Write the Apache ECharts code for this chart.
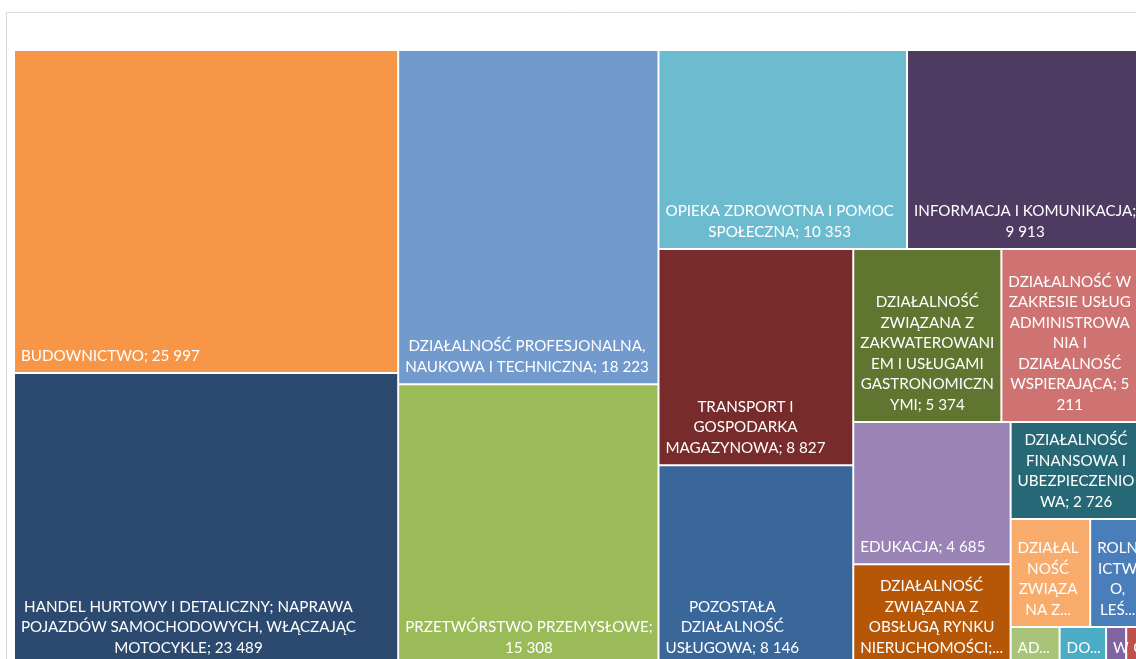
<!DOCTYPE html>
<html>
<head>
<meta charset="utf-8">
<script src="https://cdn.jsdelivr.net/npm/echarts@6/dist/echarts.min.js"></script>
<style>
  html, body { margin: 0; padding: 0; background: #ffffff; }
  #chart { width: 1136px; height: 659px; }
</style>
</head>
<body>
<div id="chart"></div>
<script>
// ---- data ----
const categories = [
  'BUDOWNICTWO',
  'HANDEL HURTOWY I DETALICZNY; NAPRAWA POJAZDÓW SAMOCHODOWYCH, WŁĄCZAJĄC MOTOCYKLE',
  'DZIAŁALNOŚĆ PROFESJONALNA, NAUKOWA I TECHNICZNA',
  'PRZETWÓRSTWO PRZEMYSŁOWE',
  'OPIEKA ZDROWOTNA I POMOC SPOŁECZNA',
  'INFORMACJA I KOMUNIKACJA',
  'TRANSPORT I GOSPODARKA MAGAZYNOWA',
  'POZOSTAŁA DZIAŁALNOŚĆ USŁUGOWA',
  'DZIAŁALNOŚĆ ZWIĄZANA Z ZAKWATEROWANIEM I USŁUGAMI GASTRONOMICZNYMI',
  'DZIAŁALNOŚĆ W ZAKRESIE USŁUG ADMINISTROWANIA I DZIAŁALNOŚĆ WSPIERAJĄCA',
  'EDUKACJA',
  'DZIAŁALNOŚĆ ZWIĄZANA Z OBSŁUGĄ RYNKU NIERUCHOMOŚCI',
  'DZIAŁALNOŚĆ FINANSOWA I UBEZPIECZENIOWA',
  'DZIAŁALNOŚĆ ZWIĄZANA Z KULTURĄ, ROZRYWKĄ I REKREACJĄ',
  'ROLNICTWO, LEŚNICTWO, ŁOWIECTWO I RYBACTWO',
  'ADMINISTRACJA PUBLICZNA I OBRONA NARODOWA; OBOWIĄZKOWE ZABEZPIECZENIA SPOŁECZNE',
  'DOSTAWA WODY; GOSPODAROWANIE ŚCIEKAMI I ODPADAMI ORAZ DZIAŁALNOŚĆ ZWIĄZANA Z REKULTYWACJĄ',
  'WYTWARZANIE I ZAOPATRYWANIE W ENERGIĘ ELEKTRYCZNĄ, GAZ, PARĘ WODNĄ I GORĄCĄ WODĘ',
  'GÓRNICTWO I WYDOBYWANIE'
];

const values = [25997, 23489, 18223, 15308, 10353, 9913, 8827, 8146, 5374, 5211,
                4685, 3320, 2726, 1800, 1240, 390, 370, 160, 150];

// displayed labels (as wrapped / truncated in the picture)
const labelTexts = [
  'BUDOWNICTWO; 25 997',
  'HANDEL HURTOWY I DETALICZNY; NAPRAWA\nPOJAZDÓW SAMOCHODOWYCH, WŁĄCZAJĄC\nMOTOCYKLE; 23 489',
  'DZIAŁALNOŚĆ PROFESJONALNA,\nNAUKOWA I TECHNICZNA; 18 223',
  'PRZETWÓRSTWO PRZEMYSŁOWE;\n15 308',
  'OPIEKA ZDROWOTNA I POMOC\nSPOŁECZNA; 10 353',
  'INFORMACJA I KOMUNIKACJA;\n9 913',
  'TRANSPORT I\nGOSPODARKA\nMAGAZYNOWA; 8 827',
  'POZOSTAŁA\nDZIAŁALNOŚĆ\nUSŁUGOWA; 8 146',
  'DZIAŁALNOŚĆ\nZWIĄZANA Z\nZAKWATEROWANI\nEM I USŁUGAMI\nGASTRONOMICZN\nYMI; 5 374',
  'DZIAŁALNOŚĆ W\nZAKRESIE USŁUG\nADMINISTROWA\nNIA I\nDZIAŁALNOŚĆ\nWSPIERAJĄCA; 5\n211',
  'EDUKACJA; 4 685',
  'DZIAŁALNOŚĆ\nZWIĄZANA Z\nOBSŁUGĄ RYNKU\nNIERUCHOMOŚCI;...',
  'DZIAŁALNOŚĆ\nFINANSOWA I\nUBEZPIECZENIO\nWA; 2 726',
  'DZIAŁAL\nNOŚĆ\nZWIĄZA\nNA Z...',
  'ROLN\nICTW\nO,\nLEŚ...',
  'AD...',
  'DO...',
  'W',
  'G'
];

const colors = [
  '#F79646', '#2C4A6F', '#729ACD', '#9BBB59', '#6CBBCE', '#4E3B62', '#772B2B',
  '#3A679A', '#5F7530', '#CE7371', '#9A83B5', '#B65708', '#276877', '#F9AB6B',
  '#4A7EBB', '#A8C478', '#4BACC6', '#8064A2', '#C0504D'
];

// ---- styling ----
const FONT_FAMILY = 'Lato';
const FONT_SIZE = 15.2;
const PAD = 6;
const measureCtx = document.createElement('canvas').getContext('2d');
measureCtx.font = FONT_SIZE + 'px ' + FONT_FAMILY;
function blockWidth(t) {
  return Math.max.apply(null, t.split('\n').map(l => measureCtx.measureText(l).width));
}
const labelByName = {};
categories.forEach((c, i) => { labelByName[c] = labelTexts[i]; });

const data = categories.map((name, i) => ({
  name: name,
  value: values[i],
  itemStyle: { color: colors[i] },
  label: { position: [PAD + blockWidth(labelTexts[i]) / 2, '100%'] }
}));

const chart = echarts.init(document.getElementById('chart'), null, { renderer: 'canvas' });
chart.setOption({
  animation: false,
  tooltip: { show: false },
  graphic: [{
    type: 'rect', silent: true, z: -10,
    shape: { x: 6.5, y: 12.5, width: 1400, height: 900 },
    style: { fill: 'none', stroke: '#d9d9d9', lineWidth: 1 }
  }],
  series: [{
    type: 'treemap',
    left: 15, top: 51, width: 1129, height: 613,
    squareRatio: 1,
    roam: false,
    nodeClick: false,
    visibleMin: 0,
    breadcrumb: { show: false },
    itemStyle: { borderWidth: 0, gapWidth: 2, borderColor: '#ffffff' },
    levels: [{ itemStyle: { borderWidth: 0, gapWidth: 2, borderColor: '#ffffff' } }],
    label: {
      show: true,
      color: '#ffffff',
      fontFamily: FONT_FAMILY,
      fontSize: FONT_SIZE,
      lineHeight: 20.5,
      align: 'center',
      verticalAlign: 'bottom',
      padding: 0,
      offset: [0, -6],
      overflow: 'none',
      formatter: function (p) { return labelByName[p.name] || ''; }
    },
    emphasis: { disabled: true },
    data: data
  }]
});
</script>
</body>
</html>
